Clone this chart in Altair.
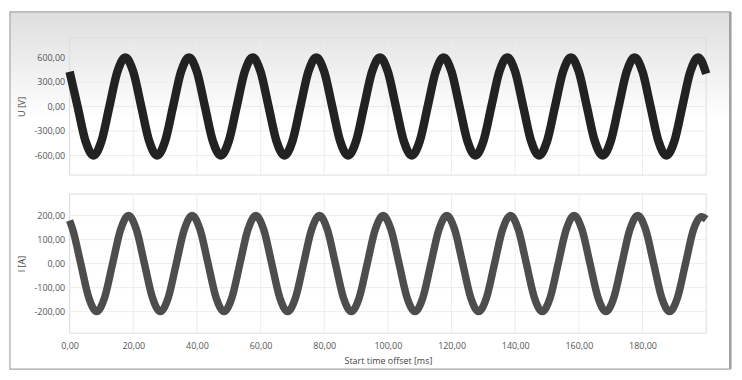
import altair as alt
import pandas as pd

# ---- data ----
u_ms = [
    0, 2.5, 5, 7.5, 10, 12.5, 15, 17.5,
    20, 22.5, 25, 27.5, 30, 32.5, 35, 37.5,
    40, 42.5, 45, 47.5, 50, 52.5, 55, 57.5,
    60, 62.5, 65, 67.5, 70, 72.5, 75, 77.5,
    80, 82.5, 85, 87.5, 90, 92.5, 95, 97.5,
    100, 102.5, 105, 107.5, 110, 112.5, 115, 117.5,
    120, 122.5, 125, 127.5, 130, 132.5, 135, 137.5,
    140, 142.5, 145, 147.5, 150, 152.5, 155, 157.5,
    160, 162.5, 165, 167.5, 170, 172.5, 175, 177.5,
    180, 182.5, 185, 187.5, 190, 192.5, 195, 197.5,
    200,
]
u_volts = [
    424, 0, -424, -600, -424, 0, 424, 600,
    424, 0, -424, -600, -424, 0, 424, 600,
    424, 0, -424, -600, -424, 0, 424, 600,
    424, 0, -424, -600, -424, 0, 424, 600,
    424, 0, -424, -600, -424, 0, 424, 600,
    424, 0, -424, -600, -424, 0, 424, 600,
    424, 0, -424, -600, -424, 0, 424, 600,
    424, 0, -424, -600, -424, 0, 424, 600,
    424, 0, -424, -600, -424, 0, 424, 600,
    424, 0, -424, -600, -424, 0, 424, 600,
    400,
]
i_ms = [
    0,
    1, 3.5, 6, 8.5, 11, 13.5, 16, 18.5,
    21, 23.5, 26, 28.5, 31, 33.5, 36, 38.5,
    41, 43.5, 46, 48.5, 51, 53.5, 56, 58.5,
    61, 63.5, 66, 68.5, 71, 73.5, 76, 78.5,
    81, 83.5, 86, 88.5, 91, 93.5, 96, 98.5,
    101, 103.5, 106, 108.5, 111, 113.5, 116, 118.5,
    121, 123.5, 126, 128.5, 131, 133.5, 136, 138.5,
    141, 143.5, 146, 148.5, 151, 153.5, 156, 158.5,
    161, 163.5, 166, 168.5, 171, 173.5, 176, 178.5,
    181, 183.5, 186, 188.5, 191, 193.5, 196, 198.5,
    200,
]
i_amps = [
    180,
    141, 0, -141, -200, -141, 0, 141, 200,
    141, 0, -141, -200, -141, 0, 141, 200,
    141, 0, -141, -200, -141, 0, 141, 200,
    141, 0, -141, -200, -141, 0, 141, 200,
    141, 0, -141, -200, -141, 0, 141, 200,
    141, 0, -141, -200, -141, 0, 141, 200,
    141, 0, -141, -200, -141, 0, 141, 200,
    141, 0, -141, -200, -141, 0, 141, 200,
    141, 0, -141, -200, -141, 0, 141, 200,
    141, 0, -141, -200, -141, 0, 141, 195,
    185,
]
x_ticks = [0, 20, 40, 60, 80, 100, 120, 140, 160, 180]
u_ticks = [-600, -300, 0, 300, 600]
i_ticks = [-200, -100, 0, 100, 200]

# ---- styling ----
FONT = "Open Sans"
W, H1, H2 = 640, 138, 140
GRID = "#ececec"
LABEL_EXPR = "replace(replace(format(datum.value, '.2f'), '.', ','), '\u2212', '-')"

xscale = alt.Scale(domain=[0, 200], nice=False, zero=False)
uscale = alt.Scale(domain=[-840, 840], nice=False)
iscale = alt.Scale(domain=[-290, 290], nice=False)

one = alt.Data(values=[{"k": 0}])

gradient = {
    "gradient": "linear", "x1": 0, "y1": 0, "x2": 0, "y2": 1,
    "stops": [
        {"offset": 0, "color": "#dedede"},
        {"offset": 0.3, "color": "#ffffff"},
        {"offset": 1, "color": "#ffffff"},
    ],
}

frame = alt.Chart(one).mark_rect(fill=gradient, stroke="#a6a6a6", strokeWidth=1.2).encode(
    x=alt.value(-60), x2=alt.value(664), y=alt.value(-26), y2=alt.value(333)
)
shadow = alt.Chart(one).mark_rect(fill="#a0a0a0").encode(
    x=alt.value(663), x2=alt.value(665.5), y=alt.value(-26), y2=alt.value(333)
)


def plot_border():
    return alt.Chart(one).mark_rect(fill="transparent", stroke="#dedede", strokeWidth=1).encode(
        x=alt.value(0), x2=alt.value("width"), y=alt.value(0), y2=alt.value("height")
    )


def y_axis(ticks, title):
    return alt.Axis(
        values=ticks, labelExpr=LABEL_EXPR, grid=False, ticks=False, domain=False,
        zindex=1, labelPadding=5, titlePadding=7, title=title,
        labelFont=FONT, labelFontSize=9, labelColor="#555555",
        titleFont=FONT, titleFontSize=9, titleColor="#444444", titleFontWeight="normal",
    )


def x_axis():
    return alt.Axis(
        values=x_ticks, labelExpr=LABEL_EXPR, grid=False, ticks=False, domain=False,
        zindex=1, labelPadding=8, titlePadding=6, title="Start time offset [ms]",
        labelFlush=False,
        labelFont=FONT, labelFontSize=9, labelColor="#555555",
        titleFont=FONT, titleFontSize=9, titleColor="#444444", titleFontWeight="normal",
    )


u_df = pd.DataFrame({"t": u_ms, "u": u_volts})
i_df = pd.DataFrame({"t": i_ms, "i": i_amps})

u_axis = y_axis(u_ticks, "U [V]")
i_axis = y_axis(i_ticks, "I [A]")

u_hgrid = alt.Chart(pd.DataFrame({"v": u_ticks})).mark_rule(color=GRID).encode(
    y=alt.Y("v:Q", scale=uscale, axis=u_axis)
)
u_vgrid = alt.Chart(pd.DataFrame({"v": x_ticks})).mark_rule(color=GRID).encode(
    x=alt.X("v:Q", scale=xscale, axis=None)
)
u_line = alt.Chart(u_df).mark_line(color="#222222", strokeWidth=8.5, interpolate="monotone").encode(
    x=alt.X("t:Q", scale=xscale, axis=None),
    y=alt.Y("u:Q", scale=uscale, axis=u_axis),
)
top = alt.layer(frame, shadow, u_hgrid, u_vgrid, plot_border(), u_line).properties(width=W, height=H1)

i_hgrid = alt.Chart(pd.DataFrame({"v": i_ticks})).mark_rule(color=GRID).encode(
    y=alt.Y("v:Q", scale=iscale, axis=i_axis)
)
i_vgrid = alt.Chart(pd.DataFrame({"v": x_ticks})).mark_rule(color=GRID).encode(
    x=alt.X("v:Q", scale=xscale, axis=x_axis())
)
i_line = alt.Chart(i_df).mark_line(color="#4d4d4d", strokeWidth=7.5, interpolate="monotone").encode(
    x=alt.X("t:Q", scale=xscale, axis=x_axis()),
    y=alt.Y("i:Q", scale=iscale, axis=i_axis),
)
bottom = alt.layer(i_hgrid, i_vgrid, plot_border(), i_line).properties(width=W, height=H2)

chart = (
    alt.vconcat(top, bottom, spacing=19, bounds="flush")
    .properties(padding={"left": 8, "top": 9, "right": 10, "bottom": 12}, background="white")
    .configure_view(stroke="transparent")
)

chart.save("out.html", embed_options={"renderer": "svg", "actions": False})
